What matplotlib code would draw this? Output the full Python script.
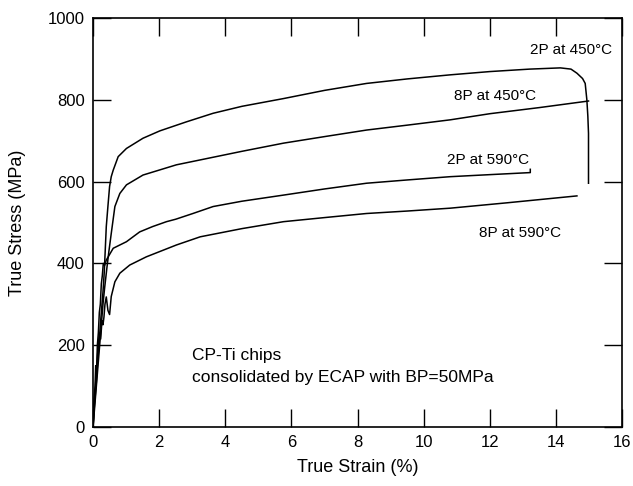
import numpy as np
import matplotlib
matplotlib.use("Agg")
import matplotlib.pyplot as plt

plt.rcParams['font.family'] = ['Liberation Sans', 'DejaVu Sans']

# curves: strain (%) and stress (MPa)
strain_2p450 = [0, 0.03, 0.07, 0.1, 0.14, 0.18, 0.22, 0.26, 0.3, 0.34, 0.4, 0.45, 0.5, 0.55, 0.61, 0.76,
                1.01, 1.51, 2.02, 2.82, 3.63, 4.5, 5.76, 7.0, 8.27, 9.5, 10.8, 12.0, 13.2, 14.13,
                14.45, 14.63, 14.8, 14.88, 14.93, 14.96, 14.98, 14.98]
stress_2p450 = [0, 40, 80, 110, 160, 200, 250, 290, 330, 380, 490, 540, 588, 612, 628, 661,
                681, 706, 724, 746, 767, 784, 803, 823, 840, 851, 861, 869, 875, 878,
                875, 865, 852, 840, 800, 760, 718, 596]

strain_8p450 = [0, 0.05, 0.1, 0.15, 0.2, 0.25, 0.3, 0.35, 0.42, 0.48, 0.55, 0.66, 0.81, 1.01, 1.51,
                2.52, 3.24, 4.5, 5.76, 7.0, 8.27, 9.5, 10.8, 12.0, 13.5, 14.98]
stress_8p450 = [0, 50, 100, 150, 200, 250, 300, 340, 390, 430, 473, 539, 571, 592, 616,
                641, 653, 674, 694, 710, 726, 738, 751, 766, 781, 797]

strain_2p590 = [0, 0.03, 0.06, 0.08, 0.11, 0.13, 0.16, 0.19, 0.22, 0.25, 0.28, 0.31, 0.35, 0.4,
                0.61, 1.01, 1.41, 1.8, 2.22, 2.5, 3.02, 3.63, 4.5, 5.76, 7.0, 8.27, 9.5, 10.8,
                12.0, 13.22, 13.22]
stress_2p590 = [0, 70, 100, 150, 140, 200, 230, 280, 300, 350, 370, 400, 395, 408,
                437, 453, 477, 490, 502, 508, 522, 539, 552, 567, 582, 596, 604, 612,
                617, 622, 630]

strain_8p590 = [0, 0.04, 0.08, 0.12, 0.15, 0.19, 0.23, 0.27, 0.3, 0.33, 0.36, 0.4, 0.45, 0.5, 0.55,
                0.66, 0.81, 1.11, 1.61, 2.52, 3.24, 4.5, 5.76, 7.0, 8.27, 9.5, 10.8, 12.5, 14.63]
stress_8p590 = [0, 60, 110, 160, 190, 230, 215, 260, 250, 269, 300, 318, 285, 275, 319,
                355, 376, 396, 416, 445, 465, 485, 502, 512, 522, 528, 535, 548, 565]

curve_labels = ['2P at 450°C', '8P at 450°C', '2P at 590°C', '8P at 590°C']
label_x = [14.46, 12.16, 11.95, 12.9]
label_y = [922, 809, 653, 474]

xticks = [0, 2, 4, 6, 8, 10, 12, 14, 16]
yticks = [0, 200, 400, 600, 800, 1000]

fig = plt.figure(figsize=(6.33, 4.86), dpi=100)
ax = fig.add_axes([0.147, 0.1214, 0.836, 0.8416])

for xs, ys in [(strain_2p450, stress_2p450), (strain_8p450, stress_8p450),
               (strain_2p590, stress_2p590), (strain_8p590, stress_8p590)]:
    ax.plot(xs, ys, color='k', lw=1.1)

for t, x, y in zip(curve_labels, label_x, label_y):
    ax.text(x, y, t, ha='center', va='center', fontsize=11)

ax.text(3.0, 174, 'CP-Ti chips', ha='left', va='center', fontsize=12.5)
ax.text(3.0, 122, 'consolidated by ECAP with BP=50MPa', ha='left', va='center', fontsize=12.5)

ax.set_xlim(0, 16)
ax.set_ylim(0, 1000)
ax.set_xticks(xticks)
ax.set_yticks(yticks)
ax.tick_params(direction='in', length=13, width=1, top=True, right=True, labelsize=12, pad=6)
for s in ax.spines.values():
    s.set_linewidth(1.2)
ax.set_xlabel('True Strain (%)', fontsize=13)
ax.set_ylabel('True Stress (MPa)', fontsize=13)
ax.xaxis.set_label_coords(0.5, -0.078)
ax.yaxis.set_label_coords(-0.127, 0.5)

fig.savefig('out.png', dpi=100)
